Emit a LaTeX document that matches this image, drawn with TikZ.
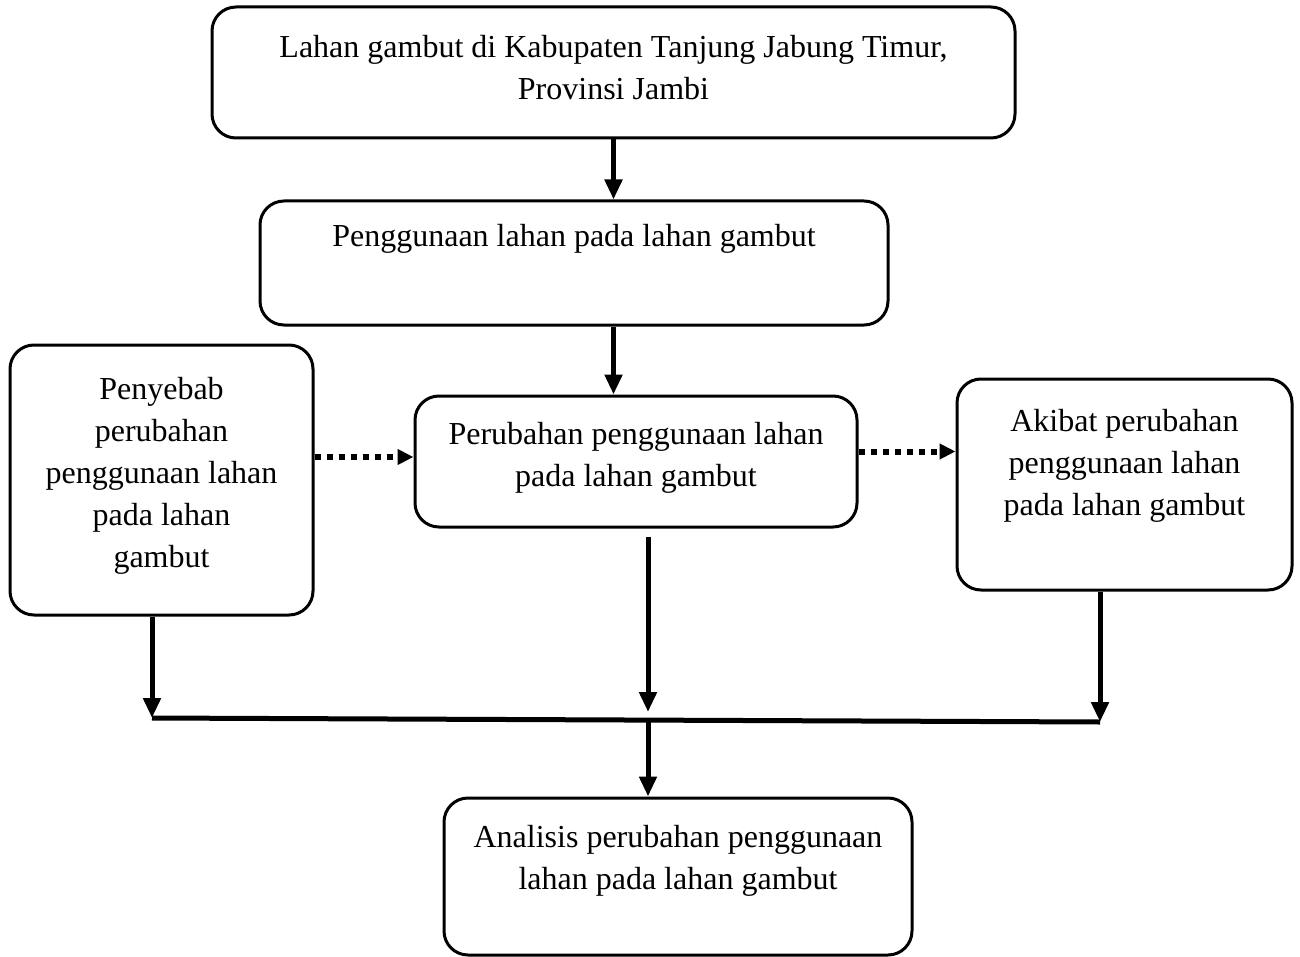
\documentclass[tikz,border=0pt]{standalone}
\usepackage{fontspec}
\setmainfont{Liberation Serif}
\usetikzlibrary{arrows.meta}

\tikzset{
  box/.style={draw,line width=1.5pt,rounded corners=12pt,align=center,
    font=\fontsize{16}{21}\selectfont,inner sep=0pt},
  arr/.style={line width=2.5pt,-{Triangle[length=10pt,width=8.5pt]}},
  dotarr/.style={line width=3pt,dash pattern=on 3pt off 3pt,
    -{Triangle[length=8pt,width=7.5pt]}},
}

\begin{document}
\begin{tikzpicture}[x=0.5pt,y=-0.5pt]
  \useasboundingbox (0,0) rectangle (1300,957);

  % Boxes, placed at their centres.
  \node[box,minimum width=401.5pt,minimum height=65.5pt] (top) at (613.5,72.5)
    {Lahan gambut di Kabupaten Tanjung Jabung Timur,\\Provinsi Jambi\\[-22pt]\strut};
  \node[box,minimum width=314pt,minimum height=62pt] (use) at (574,263)
    {Penggunaan lahan pada lahan gambut\\\strut};
  \node[box,minimum width=151.5pt,minimum height=135pt] (cause) at (161.5,480)
    {Penyebab\\perubahan\\penggunaan lahan\\pada lahan\\gambut\\[-20pt]\strut};
  \node[box,minimum width=221pt,minimum height=65.5pt] (change) at (636,461.5)
    {Perubahan penggunaan lahan\\pada lahan gambut\\[-20pt]\strut};
  \node[box,minimum width=167.5pt,minimum height=105.5pt] (effect) at (1124.5,484.5)
    {Akibat perubahan\\penggunaan lahan\\pada lahan gambut\\[-5pt]\strut};
  \node[box,minimum width=234pt,minimum height=78.5pt] (result) at (678,876.5)
    {Analisis perubahan penggunaan\\lahan pada lahan gambut\\[-8pt]\strut};

  % Join points of the lower branches.
  \coordinate (jl) at (152,718);
  \coordinate (jm) at (648,720);
  \coordinate (jr) at (1100,722);

  % Connectors.
  \draw[arr] (top.south) -- (top.south |- use.north);
  \draw[arr] (use.south -| top.south) -- (change.north -| top.south);
  \draw[dotarr] ([yshift=2.25pt]change.west -| cause.east) -- ([yshift=2.25pt]change.west);
  \draw[dotarr] ([yshift=5pt]change.east) -- ([yshift=5pt]change.east -| effect.west);
  \draw[arr] ([yshift=-4pt]change.south -| jm) -- ([yshift=4pt]jm);
  \draw[arr] (cause.south -| jl) -- (jl);
  \draw[arr] (effect.south -| jr) -- (jr);
  \draw[line width=2.5pt] (jl) -- (jr);
  \draw[arr] (jm) -- (result.north -| jm);
\end{tikzpicture}
\end{document}
